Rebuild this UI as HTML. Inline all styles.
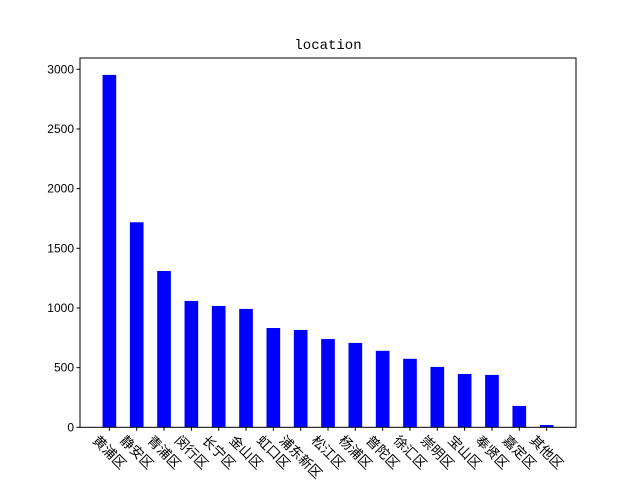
<!DOCTYPE html>
<html><head><meta charset="utf-8"><style>
body{margin:0;background:#fff}
svg text{font-family:"Liberation Sans","Noto Sans CJK SC",sans-serif;font-size:12px}
</style></head><body>
<svg id="chart" width="640" height="480">
<rect width="640" height="480" fill="#fff"/>
<text x="328" y="49" text-anchor="middle" style="font-size:14px;font-family:'Liberation Mono',monospace">location</text>
<g id="bars"></g><g id="xt"></g><g id="yt"></g>
<rect x="80" y="58" width="496" height="369.3" fill="none" stroke="#000" stroke-width="1"/>
</svg>
<script>
const categories=["黄浦区","静安区","青浦区","闵行区","长宁区","金山区","虹口区","浦东新区","松江区","杨浦区","普陀区","徐汇区","崇明区","宝山区","奉贤区","嘉定区","其他区"];
const values=[2953,1718,1310,1059,1017,992,832,816,740,707,641,574,506,447,439,179,19];
const yTicks=[0,500,1000,1500,2000,2500,3000];
const NS="http://www.w3.org/2000/svg";
const L=80,R=576,T=58,B=427.3;
const n=categories.length;
const xmin=-0.25-0.05*(n-0.5),xmax=n-1+0.25+0.05*(n-0.5);
const x=i=>L+(i-xmin)/(xmax-xmin)*(R-L);
const y=v=>B-v*(358/3000);
function mk(t,a,p){const e=document.createElementNS(NS,t);for(const k in a)e.setAttribute(k,a[k]);document.getElementById(p).appendChild(e);return e;}
const bw=0.5*(R-L)/(xmax-xmin);
const fs=13.5;
values.forEach((v,i)=>{
 const r=mk('rect',{x:x(i)-bw/2,y:y(v),width:bw,height:B-y(v),fill:'#0000ff'},'bars');
 
 
 const tk=mk('line',{x1:x(i),x2:x(i),y1:B,y2:B+3.5,stroke:'#000'},'xt');
 
 
 const w=categories[i].length*fs, h=fs;
 const cy=B+6+(w+h)*0.7071/2;
 const t=mk('text',{x:0,y:0,'text-anchor':'middle','dominant-baseline':'central','style':'font-size:'+fs+'px','transform':`translate(${x(i)},${cy}) rotate(45)`},'xt');
 t.textContent=categories[i];
 
 
});
yTicks.forEach(v=>{
 const tk=mk('line',{x1:L-3.5,x2:L,y1:y(v),y2:y(v),stroke:'#000'},'yt');
 
 
 const t=mk('text',{x:L-6,y:y(v)+4,'text-anchor':'end'},'yt');
 t.textContent=v;
 
 
});
</script>
</body></html>
